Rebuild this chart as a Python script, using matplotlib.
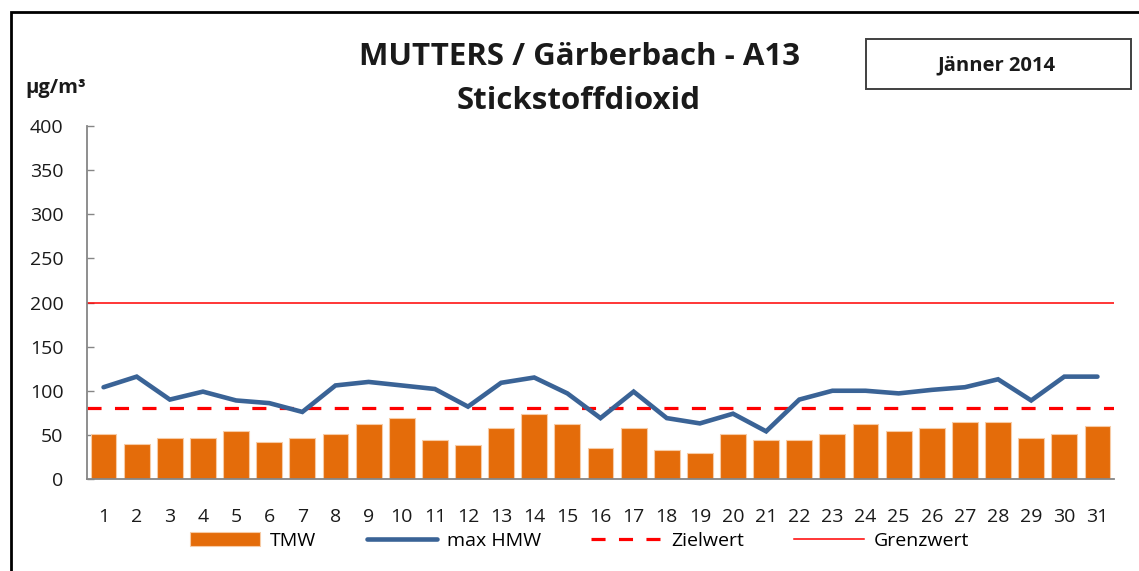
import numpy as np
import matplotlib
matplotlib.use("Agg")
import matplotlib.pyplot as plt
from matplotlib.patches import Rectangle

plt.rcParams['font.family'] = ['Open Sans', 'DejaVu Sans']

# Tagesdaten Jänner 2014, NO2 in µg/m³
tage = np.arange(1, 32)
tmw = [51, 40, 47, 47, 54, 42, 47, 51, 62, 69, 44, 38, 58, 74, 62, 35,
       58, 33, 29, 51, 44, 44, 51, 62, 54, 58, 65, 65, 47, 51, 60]
max_hmw = [104, 116, 90, 99, 89, 86, 76, 106, 110, 106, 102, 82, 109, 115, 97, 69,
           99, 69, 63, 74, 54, 90, 100, 100, 97, 101, 104, 113, 89, 116, 116]
zielwert = 80
grenzwert = 200
y_ticks = list(range(0, 401, 50))

W, H = 1139, 571
fig = plt.figure(figsize=(W / 100, H / 100), dpi=100)
ax = fig.add_axes([87 / W, 1 - 479 / H, (1114 - 87) / W, (479 - 126) / H])

grau = '#868686'
b = ax.bar(tage, tmw, width=0.78, color='#E46C0A', edgecolor='#F7CBA5', linewidth=0.8,
           label='TMW', zorder=2)
l1, = ax.plot(tage, max_hmw, color='#3A6396', lw=3.3, solid_capstyle='round',
              solid_joinstyle='miter', label='max HMW', zorder=3)
l2 = ax.axhline(zielwert, color='#FF0000', lw=2.3, ls=(0, (4.4, 4.2)), label='Zielwert', zorder=2)
l3 = ax.axhline(grenzwert, color='#FF0000', lw=1.1, label='Grenzwert', zorder=2)

ax.set_xlim(0.5, 31.5)
ax.set_ylim(0, 400)
ax.set_yticks(y_ticks)
ax.set_xticks(tage)
ax.tick_params(axis='y', direction='in', length=5, width=1, color=grau,
               labelsize=14, pad=17, labelcolor='#1a1a1a')
ax.tick_params(axis='x', length=0, labelsize=14, pad=21, labelcolor='#1a1a1a')
for s in ['top', 'right']:
    ax.spines[s].set_visible(False)
for s in ['left', 'bottom']:
    ax.spines[s].set_color(grau)
    ax.spines[s].set_linewidth(1.3)

leg = ax.legend([b, l1, l2, l3], ['TMW', 'max HMW', 'Zielwert', 'Grenzwert'],
                loc='upper center', bbox_to_anchor=(0.48, -0.128), ncol=4,
                frameon=False, fontsize=14, handlelength=3.6, handletextpad=0.5,
                columnspacing=2.6, borderaxespad=0)

# Titel und Einheit
fig.text(580 / W, 1 - 57 / H, 'MUTTERS / Gärberbach - A13', ha='center', va='center',
         fontsize=22.5, fontweight='bold', color='#1a1a1a')
fig.text(579 / W, 1 - 101 / H, 'Stickstoffdioxid', ha='center', va='center',
         fontsize=22.5, fontweight='bold', color='#1a1a1a')
fig.text(25 / W, 1 - 88 / H, 'µg/m³', ha='left', va='center',
         fontsize=14.5, fontweight='bold', color='#1a1a1a')

# Monatskasten
fig.patches.append(Rectangle((866 / W, 1 - 89 / H), (1131 - 866) / W, 50 / H,
                             transform=fig.transFigure, fill=False,
                             edgecolor='#404040', lw=1.4))
fig.text(996 / W, 1 - 65 / H, 'Jänner 2014', ha='center', va='center',
         fontsize=14.5, fontweight='bold', color='#1a1a1a')

# Rahmen
fig.patches.append(Rectangle((11 / W, -0.1), 1.2, 1.1 - 12 / H,
                             transform=fig.transFigure, fill=False,
                             edgecolor='black', lw=2))

fig.savefig('out.png', dpi=100)
